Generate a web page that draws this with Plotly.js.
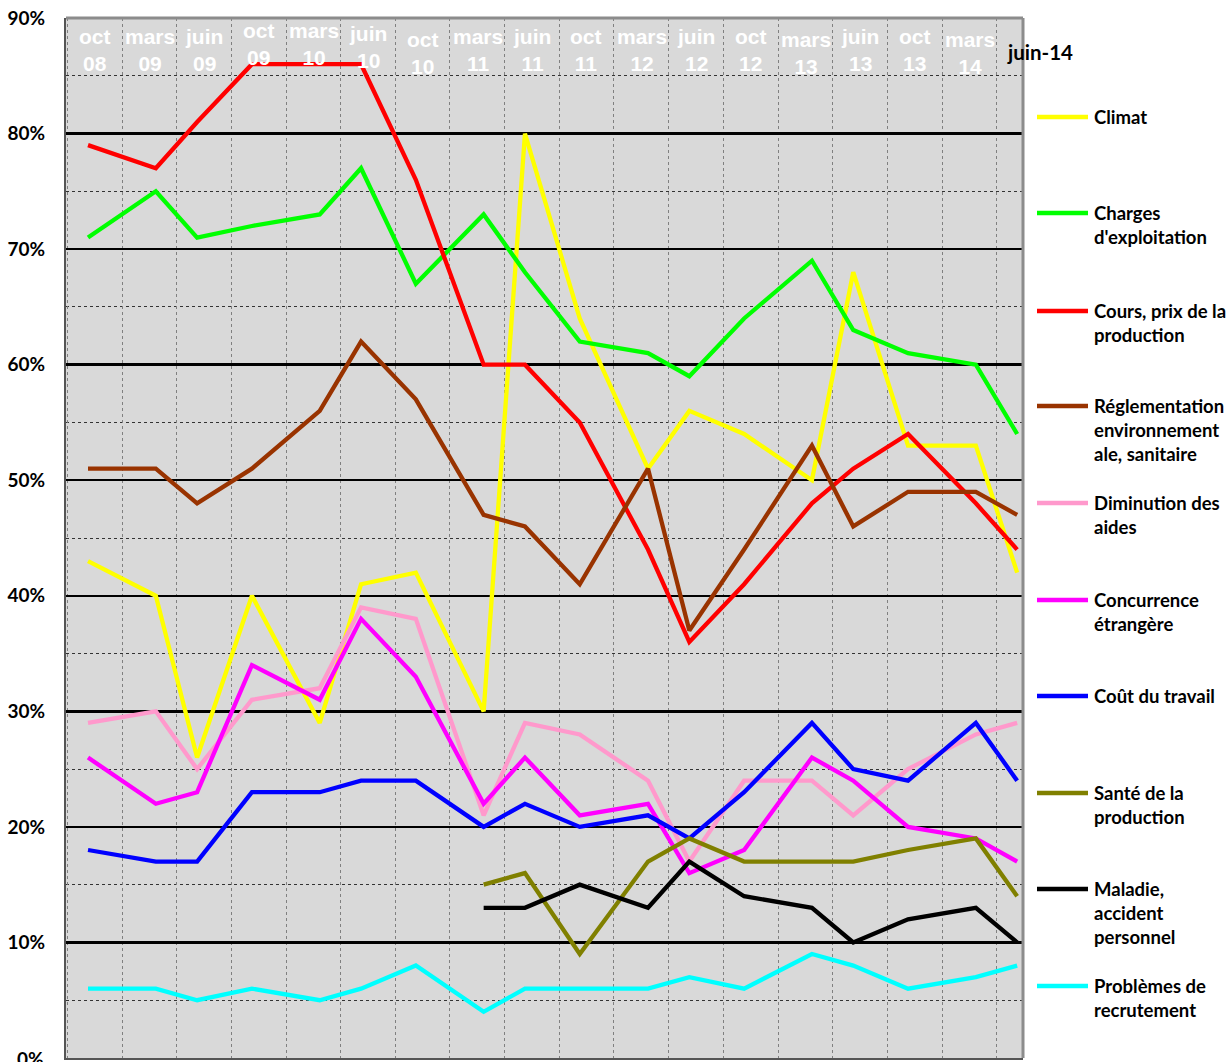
<!DOCTYPE html>
<html>
<head>
<meta charset="utf-8">
<script src="https://cdn.plot.ly/plotly-3.0.1.min.js"></script>
<style>html,body{margin:0;padding:0;background:#fff;}#chart{width:1226px;height:1062px;}</style>
</head>
<body>
<div id="chart"></div>
<script>
// ---- data ----
const dates = ['2008-10-01','2009-03-01','2009-06-01','2009-10-01','2010-03-01','2010-06-01','2010-10-01','2011-03-01','2011-06-01','2011-10-01','2012-03-01','2012-06-01','2012-10-01','2013-03-01','2013-06-01','2013-10-01','2014-03-01','2014-06-01'];
const tickLabels = ['oct<br>08','mars<br>09','juin<br>09','oct<br>09','mars<br>10','juin<br>10','oct<br>10','mars<br>11','juin<br>11','oct<br>11','mars<br>12','juin<br>12','oct<br>12','mars<br>13','juin<br>13','oct<br>13','mars<br>14','juin-14'];
const yTickVals = [0,10,20,30,40,50,60,70,80,90];

const climat        = [43,40,26,40,29,41,42,30,80,64,51,56,54,50,68,53,53,42];
const charges       = [71,75,71,72,73,77,67,73,68,62,61,59,64,69,63,61,60,54];
const cours         = [79,77,81,86,86,86,76,60,60,55,44,36,41,48,51,54,48,44];
const reglementation= [51,51,48,51,56,62,57,47,46,41,51,37,44,53,46,49,49,47];
const diminution    = [29,30,25,31,32,39,38,21,29,28,24,17,24,24,21,25,28,29];
const concurrence   = [26,22,23,34,31,38,33,22,26,21,22,16,18,26,24,20,19,17];
const coutTravail   = [18,17,17,23,23,24,24,20,22,20,21,19,23,29,25,24,29,24];
const sante         = [null,null,null,null,null,null,null,15,16,9,17,19,17,17,17,18,19,14];
const maladie       = [null,null,null,null,null,null,null,13,13,15,13,17,14,13,10,12,13,10];
const recrutement   = [6,6,5,6,5,6,8,4,6,6,6,7,6,9,8,6,7,8];

const seriesNames = ['Climat',"Charges<br>d'exploitation",'Cours, prix de la<br>production','Réglementation<br>environnement<br>ale, sanitaire','Diminution des<br>aides','Concurrence<br>étrangère','Coût du travail','Santé de la<br>production','Maladie,<br>accident<br>personnel','Problèmes de<br>recrutement'];
const seriesValues = [climat,charges,cours,reglementation,diminution,concurrence,coutTravail,sante,maladie,recrutement];

// ---- style ----
const colors = ['#ffff00','#00ff00','#ff0000','#993300','#ff99cc','#ff00ff','#0000ff','#808000','#000000','#00ffff'];
const legendY = [117,213,311,406,503,600,696,793,889,986]; // px centres of first legend line
const labelShift = [0,0,0,6,6,3,-3,0,0,0,0,0,0,-3,0,0,-3];

const W = 1226, H = 1062;
const mL = 66, mR = W - 1023, mT = 18, mB = H - 1058;
const plotW = W - mL - mR, plotH = H - mT - mB;
const px2paperX = x => (x - mL) / plotW;
const px2paperY = y => (H - mB - y) / plotH;
const yFont = {family: 'Lato, sans-serif', size: 19, color: '#000', weight: 700};

const traces = seriesValues.map((vals, i) => ({
  type: 'scatter', mode: 'lines', x: dates, y: vals,
  name: seriesNames[i], line: {color: colors[i], width: 4.3},
  connectgaps: false, hoverinfo: 'skip', showlegend: false
}));

const annotations = [];
const shapes = [];
function addMonths(dStr, m) {
  const d = new Date(dStr + 'T00:00:00Z');
  d.setUTCMonth(d.getUTCMonth() + m);
  return d.toISOString().slice(0,10);
}
// top labels, centred in grid cells (grid every 4 months)
for (let i = 0; i < tickLabels.length - 1; i++) {
  annotations.push({
    xref: 'x', yref: 'paper', x: addMonths('2008-10-16', 4*i), y: px2paperY(50),
    text: tickLabels[i], showarrow: false, xanchor: 'center', yanchor: 'middle',
    yshift: labelShift[i],
    font: {family: 'Liberation Sans, Arial, sans-serif', size: 21, color: '#ffffff', weight: 700}
  });
}
annotations.push({
  xref: 'paper', yref: 'paper', x: px2paperX(1040), y: px2paperY(52),
  text: tickLabels[tickLabels.length-1], showarrow: false, xanchor: 'center', yanchor: 'middle',
  font: {family: 'Lato, sans-serif', size: 20.5, color: '#000', weight: 700}
});
// bottom "0%" label (partly cut by the page edge, as in the original)
annotations.push({
  xref: 'paper', yref: 'y', x: px2paperX(46), y: yTickVals[0],
  text: yTickVals[0] + '%', showarrow: false, xanchor: 'right', yanchor: 'middle',
  font: yFont
});
// legend
seriesNames.forEach((nm, i) => {
  annotations.push({
    xref: 'paper', yref: 'paper', x: px2paperX(1092), y: px2paperY(legendY[i] - 13.5),
    text: nm, showarrow: false, xanchor: 'left', yanchor: 'top', align: 'left',
    font: {family: 'Lato, sans-serif', size: 18.5, color: '#000', weight: 700}
  });
  shapes.push({
    type: 'line', xref: 'paper', yref: 'paper',
    x0: px2paperX(1037), x1: px2paperX(1088), y0: px2paperY(legendY[i]), y1: px2paperY(legendY[i]),
    line: {color: colors[i], width: 4.5}
  });
});
// top & right frame
shapes.push({type:'line', xref:'paper', yref:'paper', x0:0, x1:1, y0:1, y1:1, line:{color:'#8c8c8c', width:3}, layer:'above'});
shapes.push({type:'line', xref:'paper', yref:'paper', x0:1, x1:1, y0:0, y1:1, line:{color:'#8c8c8c', width:3}, layer:'above'});

const layout = {
  width: W, height: H,
  margin: {l: mL, r: mR, t: mT, b: mB, pad: 0},
  paper_bgcolor: '#ffffff', plot_bgcolor: '#d9d9d9',
  showlegend: false,
  xaxis: {
    type: 'date', range: ['2008-08-13','2014-06-14'],
    tick0: '2008-12-16', dtick: 'M4',
    showticklabels: false, ticks: '',
    showgrid: true, gridcolor: '#808080', gridwidth: 1, griddash: 'dot',
    showline: true, linecolor: '#555555', linewidth: 2,
    zeroline: false, fixedrange: true
  },
  yaxis: {
    range: [0, 90], tickmode: 'array',
    tickvals: yTickVals.slice(1), ticktext: yTickVals.slice(1).map(v => v + '%'),
    ticks: '', ticklabelstandoff: 15,
    tickfont: yFont,
    showgrid: true, gridcolor: '#000000', gridwidth: 2.5,
    minor: {dtick: 5, tick0: 0, showgrid: true, gridcolor: '#333333', gridwidth: 1, griddash: 'dot'},
    showline: true, linecolor: '#555555', linewidth: 2,
    zeroline: false, fixedrange: true
  },
  annotations: annotations,
  shapes: shapes
};

Plotly.newPlot('chart', traces, layout, {staticPlot: true, displayModeBar: false});
</script>
</body>
</html>
